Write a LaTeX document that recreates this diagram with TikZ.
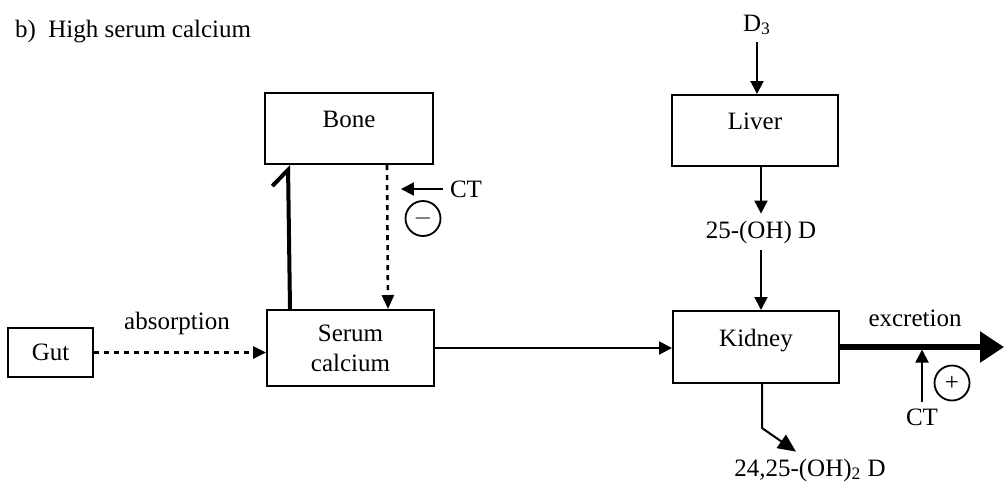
\documentclass[tikz,border=0pt]{standalone}
\usepackage{fontspec}
\setmainfont{Liberation Serif}
\usetikzlibrary{positioning,arrows.meta}

\begin{document}
\begin{tikzpicture}[x=0.5pt,y=-0.5pt,
  font=\fontsize{12.5}{15}\selectfont,
  box/.style={draw, line width=1pt, inner sep=0pt},
  uptext/.style={text depth=9.5pt},
  arr/.style={line width=1pt, -{Triangle[length=6.5pt,width=6.5pt]}},
  dots/.style={line width=1.3pt, dash pattern=on 2.5pt off 2.5pt},
  sign/.style={draw, circle, line width=0.9pt, inner sep=0pt, minimum size=17.5pt}]
\useasboundingbox (0,0) rectangle (1006,484);
\node[anchor=base west] (title) at (8,37) {b)\ \ High serum calcium};
% boxes
\node[box, uptext, minimum width=84pt, minimum height=35.5pt] (bone) at (349,128.5) {Bone};
\node[box, minimum width=83.5pt, minimum height=38pt, align=center] (serum) at (350.5,348) {Serum\\calcium};
\node[box, minimum width=42.5pt, minimum height=24.5pt] (gut) at (50.5,352.5) {Gut};
\node[box, uptext, minimum width=83pt, minimum height=35.5pt] (liver) at (755,130.5) {Liver};
\node[box, uptext, minimum width=83pt, minimum height=36pt] (kidney) at (756,347) {Kidney};
% labels
\node (dthree) at (757,25) {D\textsubscript{3}};
\node (ohd) at (761,232) {25-(OH) D};
\node (dd) at (810,470) {24,25-(OH)\textsubscript{2} D};
\node (absorb) at (177,323) {absorption};
\node (excr) at (915,318) {excretion};
\node (ctone) at (466,189) {CT};
\node (cttwo) at (922,417) {CT};
\node[sign] (minus) at (423,218.5) {$-$};
\node[sign] (plus) at (952,383) {+};
\coordinate (out) at (1004,347);
% connectors
\draw[dots, -{Triangle[length=6.5pt,width=6pt]}] (gut.east) -- (gut.east -| serum.west);
\draw[line width=2pt, -{Straight Barb[left,length=8pt,width=16pt]}] ([xshift=12pt]serum.north west) -- ([xshift=12pt]bone.south west);
\draw[dots, -{Triangle[length=7pt,width=6pt]}] ([xshift=-23.5pt]bone.south east) -- ([xshift=-23.5pt]serum.north east);
\draw[arr] (ctone.west) -- ++(-42,0);
\draw[arr] (serum.east) -- (serum.east -| kidney.west);
\draw[arr] (dthree.south) -- (dthree.south |- liver.north);
\draw[arr] (liver.south -| ohd) -- (ohd.north);
\draw[arr] (ohd.south) -- (ohd.south |- kidney.north);
\draw[line width=1pt, -{Triangle[length=9pt,width=8pt]}] ([xshift=3pt]kidney.south) -- ++(0,44) -- ([xshift=-7pt]dd.north);
\draw[line width=2.8pt, -{Triangle[length=12pt,width=15pt]}] (kidney.east) -- (out);
\draw[arr] (cttwo.north) -- ++(0,-52);
\end{tikzpicture}
\end{document}
